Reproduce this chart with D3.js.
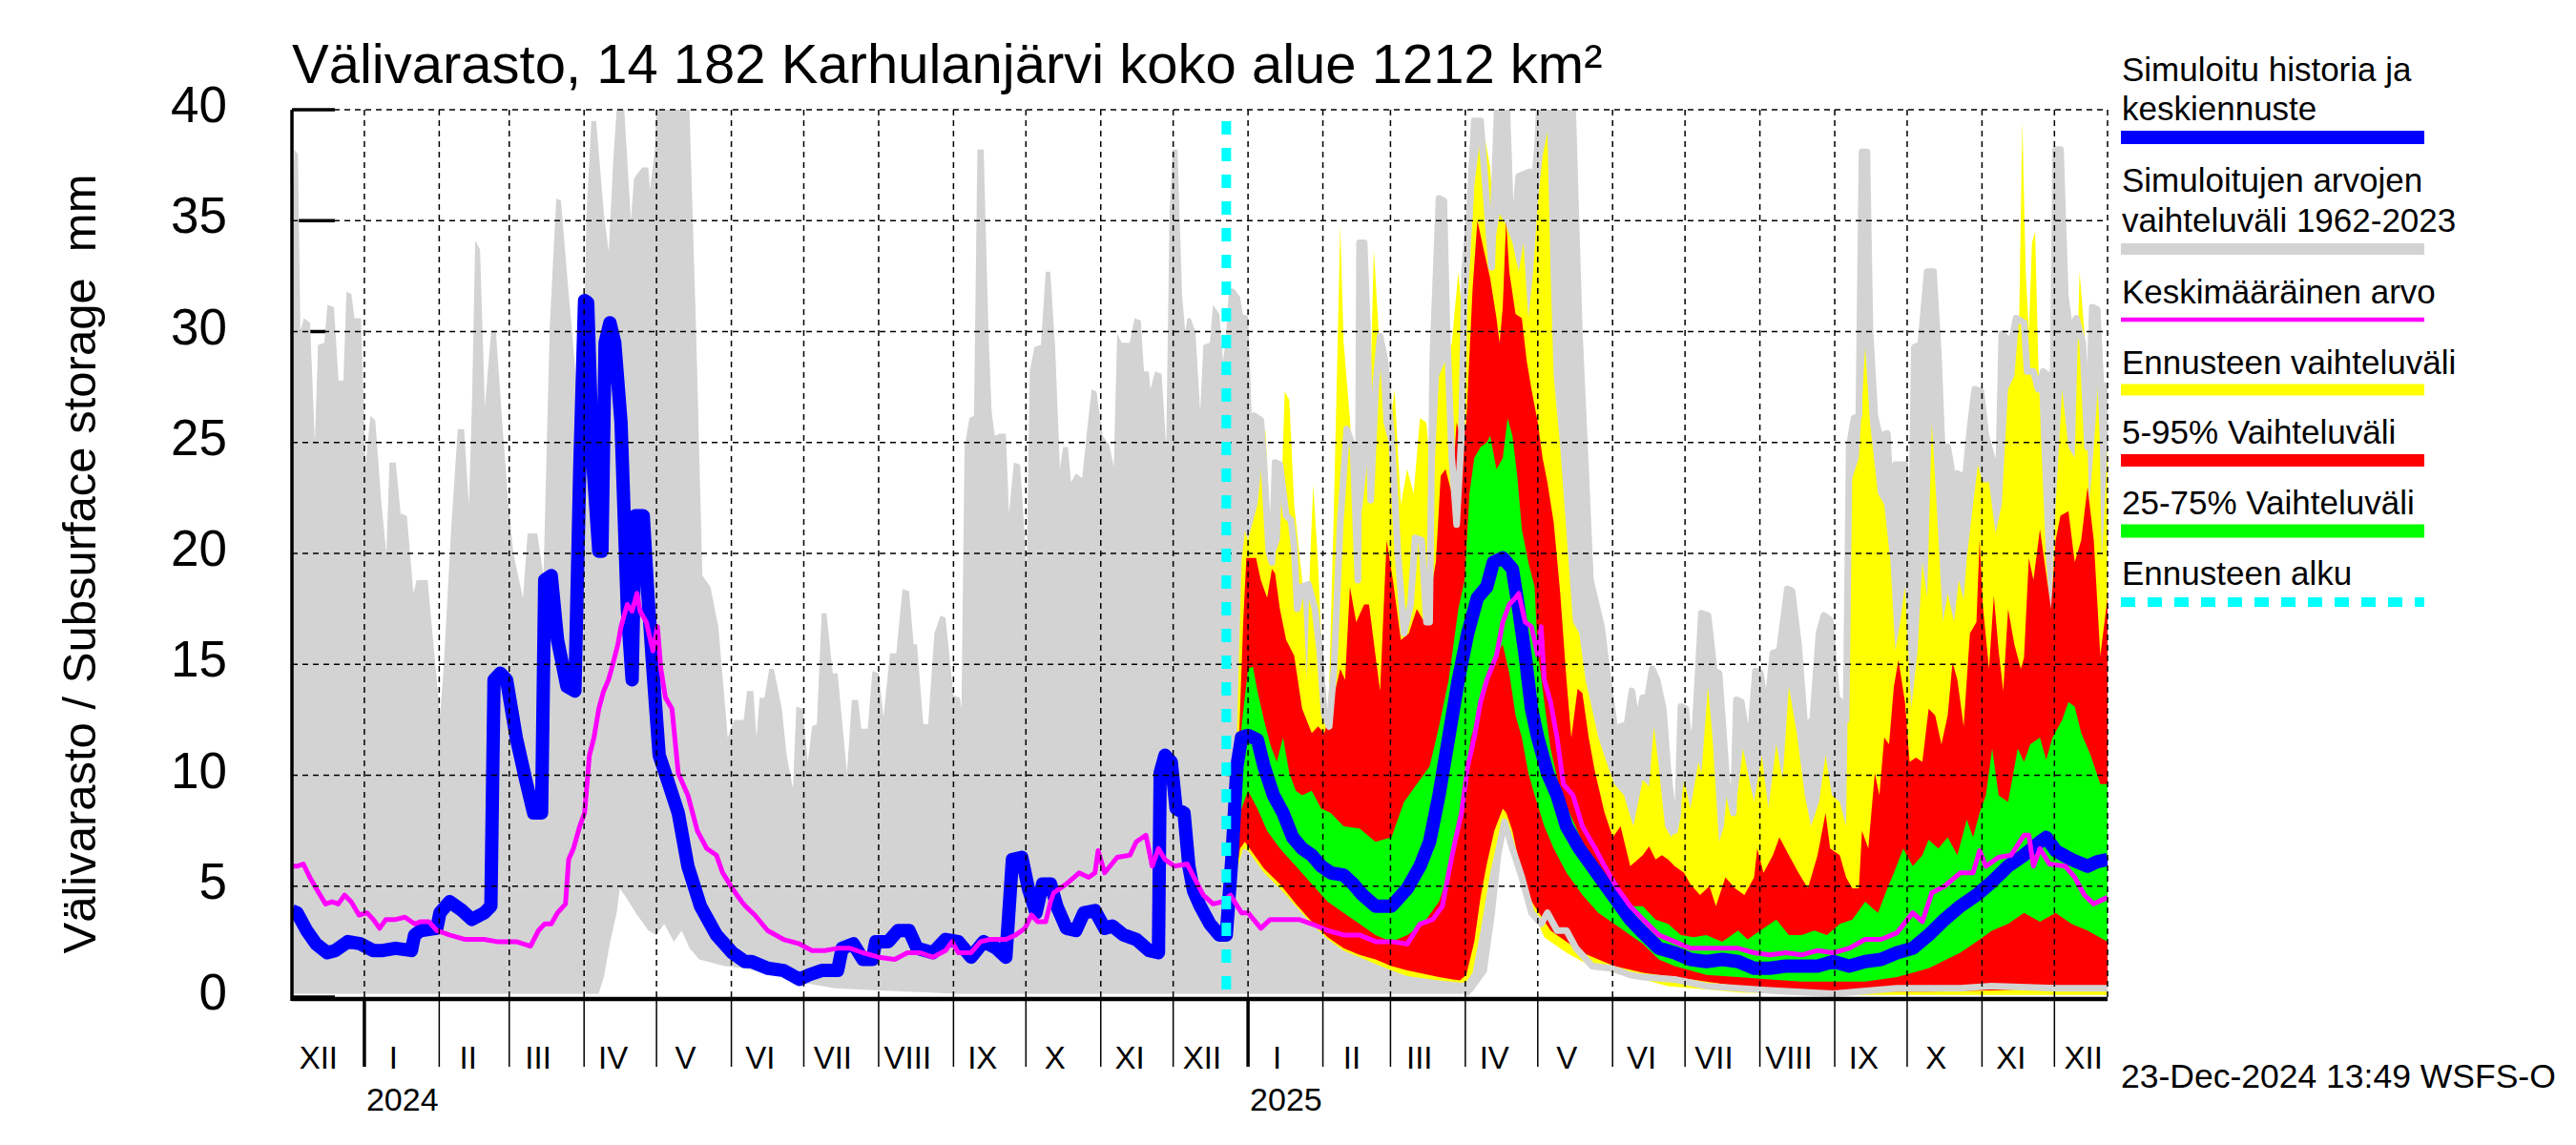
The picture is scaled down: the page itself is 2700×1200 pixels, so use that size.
<!DOCTYPE html>
<html>
<head>
<meta charset="utf-8">
<script src="https://cdn.jsdelivr.net/npm/d3@7"></script>
<style>
  body { margin: 0; background: #fff; }
  text { font-family: "Liberation Sans", Arial, Helvetica, sans-serif; fill: #000; }
</style>
</head>
<body>
<svg id="chart" width="2700" height="1200"></svg>
<script>
// days counted from 2 Dec 2023, values in mm
const histMax = [[0,35],[1,38.2],[2.5,38],[3.5,30],[4.9,30.6],[7.5,30.4],[9.5,25],[10.8,29.4],[13.4,29.5],[14.7,31.2],[17.4,31.1],[19.3,27.8],[21.3,27.8],[22.6,31.8],[24.6,31.7],[25.9,30.6],[28.6,30.6],[30.5,24],[32.5,26.2],[34.5,26],[37.1,22.2],[39.1,20],[40.4,24.1],[43,24.1],[45,21.8],[47.6,21.7],[50.3,18.2],[51.6,18.8],[56.2,18.8],[58.2,16.4],[61.4,12.7],[62.8,14.8],[66.1,21.4],[68.7,25.6],[71.3,25.6],[73.3,22.2],[74.6,26.9],[75.9,34.1],[77.9,33.7],[79.9,26.6],[82.5,30],[84.5,30],[87.1,25.9],[89.7,22.2],[91.7,20],[95.7,18],[97.6,20.9],[101.6,20.9],[104.2,19],[106.8,30.3],[109.5,36],[111.4,35.9],[114.7,31.6],[116,30],[120,24.8],[122,35.3],[124,39.5],[126,39.5],[129.2,35.3],[131.2,33.6],[133.2,37.9],[135.1,41],[137.1,41],[140.4,35],[141.7,36.9],[145,37.4],[147.6,37.4],[148.3,36.4],[150.3,38.2],[151.6,42],[164.1,42],[167.4,30],[170,19],[173.3,18.5],[176.6,16.7],[180.5,11.7],[183.2,12.5],
  [187.1,12.5],[188.5,13.8],[191.1,13.8],[192.4,11.7],[193.7,13.5],[195.7,13.5],[197.7,14.8],[199.6,14.8],[202.9,13],[204.9,10.9],[207.5,9.4],[208.9,13.1],[211.5,13],[213.7,10.6],[215.4,12.2],[217.4,12.3],[219.4,17.3],[221.4,17.3],[224,14.6],[226,14.6],[229.9,10.1],[231.9,13.4],[234.5,13.4],[235.8,12.1],[238.5,12.1],[240.4,14.7],[243.1,14.6],[245,12.6],[247.7,15.5],[250.3,15.5],[252.9,18.4],[255.6,18.3],[257.5,15.9],[258.9,15.9],[261.5,12.3],[263.5,12.3],[266.1,16.4],[268.7,17.2],[270.7,17.1],[274,13.6],[276.6,13.5],[277.3,13],[278.6,24.8],[280.6,26.1],[282.5,26.2],[283.9,38.2],[286.5,38.2],[288.5,30],[289.8,26.4],[291.1,25.3],[293.1,25.4],[295.7,25.4],[297,21.8],[299,24.1],[301.6,24],[303.6,20.6],[304.3,19.3],[305.6,28.2],[307.5,29.3],[310.2,29.4],[312.2,32.7],[314.1,32.7],[316.1,29.3],[318.1,23.8],[319.4,24.8],[321.4,24.8],[322.7,23.2],[324.7,23.6],[327.3,23.4],[329.3,25.5],[331.2,27.4],[333.2,27.3],[335.8,25.3],[338.5,24.9],[340.4,23.9],[341.8,29.9],[343.7,29.5],[347,29.5],[349,30.6],[351.6,30.5],[352.9,28.2],[354.9,28.2],[355.6,27.4],[357.5,28.2],[360.2,28.1],[362.1,24.8],[363.5,35.3],[364.8,38.2],[366.8,38.2],[368.7,31.6],[370,30],
  [370.9,30.6],[372.2,30.6],[374.2,30],[376.2,26.4],[377.5,29.4],[380.2,29.5],[381.5,31.2],[384.1,30.8],[386.1,28],[388.1,29.5],[389.4,31.8],[391.4,31.5],[392.7,30.6],[394.7,30.6],[396,26.6],[397.3,24],[398.6,26.2],[401.3,26],[402.6,24],[404.6,20.1],[405.9,19.6],[407.2,24.1],[409.2,24],[411.8,21.7],[413.8,21.5],[415.1,20.3],[416.4,17.5],[418.4,18.5],[421,18.6],[423.7,17.5],[425.7,15.6],[427.6,12.7],[429.6,12.2],[431.6,14.8],[434.2,21.4],[436.9,25.6],[439.5,24.8],[441.5,18.8],[442.2,34],[444.1,34],[445.5,30],[446.8,22.4],[448.8,27.4],[450.7,29.8],[452.7,28.7],[455.4,25.3],[458,20.1],[460.6,16.4],[463.3,17.7],[465.2,20.7],[467.9,20.6],[469.9,16.9],[471.2,16.9],[472.5,28.7],[475.1,36],[477.1,35.9],[478.4,30],[480.4,24.3],[482.4,21.3],[484.4,25.3],[485.7,32.7],[487.7,35.3],[489.7,39.5],[492.3,39.5],[494.3,36.6],[496.9,32.9],[499.5,41],[502.9,41],[504.8,34.9],[506.8,35.2],[508.1,37],[512.7,37.2],[514.1,36],[516,38.5],[517.4,42],[529.9,42],[533.2,30],[535.8,23.8],[537.8,18.8],[542.4,16.7],[545.1,14.3],[548.4,11.7],[550.3,12.2],[553,12.3],[555,13.8],[557,12.2],
  [559.5,13.5],[561.5,13.5],[563.4,14.8],[565.4,14.3],[568,13],[570,10.1],[572.7,7.5],[574,8.3],[575.3,13.1],[577.3,13],[579.2,10.6],[581.2,12.2],[583.8,17.3],[586.5,17.2],[589.1,14.7],[591.1,14.6],[594.4,9.6],[597,8.3],[598.3,13.4],[600.3,13.3],[602.3,11.9],[604.2,11.9],[606.2,14.7],[608.2,14.6],[610.8,12.7],[613.4,15.5],[616.1,15.6],[619.4,18.4],[621.3,18.3],[624,15.9],[626.6,12.2],[629.9,12.5],[632.5,16.4],[634.5,17.2],[637.1,17],[639.8,13.5],[642.4,13.2],[643.7,12.5],[645,24.8],[647,26.1],[649,26.2],[650.3,38.1],[652.3,38.1],[653.6,30],[655.6,26.2],[657.5,25.3],[660.8,25.4],[662.1,22.2],[664.1,24],[668,24],[669.4,19.8],[670.7,19.8],[672,29.3],[674.6,29.4],[677.3,32.7],[679.9,32.7],[681.9,29],[683.8,23.8],[685.8,24.8],[687.8,23.5],[689.8,23.6],[693.1,23.4],[695,25.6],[697,27.4],[699.6,27.3],[701.6,25.3],[704.9,24],[706.9,23.5],[708.2,29.9],[712.1,29.5],[714.1,30.6],[717.4,30.4],[718.7,28.2],[721.3,28.2],[723.3,27.4],[725.3,28.2],[727.9,28],[729.2,24.8],[730.5,38.2],[732.5,38.2],[734.5,31.6],[736.5,30],[739.1,30.6],[741.7,29.5],[743.7,24.8],[745.7,31.1],[747.7,31],[750.3,25.1],[752,27.7]];

const histMin = [[0,0.15],[127,0.15],[129.2,0.9],[131.8,2.5],[134.5,3.8],[135.8,4.9],[138.4,4.5],[142.4,3.8],[147.6,3],[150.9,2.8],[154.2,3.3],[158.2,2.5],[161.4,3],[164.7,2.2],[168.7,1.7],[179.2,1.4],[187.1,1.3],[195,1.1],[205,0.9],[214,0.6],[225,0.4],[243,0.3],[276,0.15],[486,0.15],[488.3,0.4],[493.6,1.2],[496.9,3.8],[499.5,6.4],[502.2,7.9],[505.5,6.7],[509.4,5.4],[513.4,3.8],[517.4,3.3],[520,3.8],[524,3],[527.9,3],[531.9,2.2],[538.5,1.4],[546.4,1.3],[554.3,1],[559.6,0.9],[572.7,0.8],[585.8,0.5],[612.1,0.3],[638.4,0.15],[664.8,0.4],[691,0.4],[704,0.5],[730.5,0.4],[752,0.4]];

const fcMax = [[387,2.8],[390.7,9],[393.3,19.6],[394.7,21],[396,20.6],[399.9,22.2],[403.2,25.6],[405.9,19.6],[409.2,20.6],[411.2,27.3],[413.1,26.9],[415.1,22.2],[418.4,18.8],[420.4,14.3],[421.7,19.6],[423,23.1],[425,19.6],[427.6,12.7],[429,11.7],[431.6,22.2],[434.2,34.8],[435.6,29.5],[438.2,26.1],[440.8,20.6],[443.5,22.2],[446.1,24.8],[448.1,33.7],[450.1,30],[452.1,25.9],[454,25.1],[456.7,27.4],[459.3,22.2],[461.9,23.8],[464.6,22.7],[467.2,26.1],[469.9,25.9],[472.5,22.2],[475.1,28],[477.8,28.7],[480.4,29.5],[483.1,32.7],[485.7,29.5],[487.7,32.7],[489.7,36.6],[492.3,38.8],[494.3,38.6],[496.3,37.4],[498.2,34],[500.2,35.3],[502.9,34.8],[505.5,34],[508.1,32.7],[510.1,34],[512.1,30.6],[514.1,32.7],[516,35.8],[518,37.9],[520,39],[521.3,32.7],[522.6,28],[525.3,24.8],[527.9,20.9],[530.6,16.9],[533.2,16.4],[535.8,14.3],[538.5,13],[541.1,11.7],[545.1,10.4],[547.7,9.6],[551.7,9.1],[555.6,7.7],
  [559.5,9.8],[562.1,9.5],[564.1,12.2],[566.1,10.4],[568.7,7.7],[571.3,7.2],[574,7.7],[576.6,9.8],[579.2,8.5],[582.5,10.6],[583.8,10.1],[586.5,14],[588.4,11.7],[591.1,7],[593.1,7.7],[595,10.1],[597.7,8.3],[601,11.2],[603.6,9.8],[605.6,8.8],[608.8,10.9],[611.5,8.5],[614.8,11.4],[617.4,9.8],[620,14],[623.3,11.9],[626.6,9.1],[629.2,7.7],[632.5,8.8],[635.2,10.9],[637.8,9.1],[641.1,8.8],[643.7,7.7],[645.7,23.2],[649,24.3],[651.6,29.3],[653.6,25.9],[656.9,22.7],[659.5,22.2],[662.1,19.6],[664.1,15.6],[666.1,16.9],[668.1,18.5],[670.7,13],[673.3,15.6],[675.3,19.6],[677.3,18],[679.2,25.9],[681.2,22.2],[683.8,16.9],[685.8,18.2],[688.4,16.9],[690.4,18.8],[692.4,17.9],[693.7,19.8],[696.3,22.2],[698.3,24],[700.3,23.2],[702.9,23.2],[705.6,20.9],[708.2,22.2],[710.8,27.4],[713.4,28],[715.4,30.6],[716.7,39.5],[718.1,32.7],[719.4,30],[720.7,34],[722,34.5],[723.3,28.7],[724.6,24.8],[726.6,19.6],[728.6,16.9],[730.5,22.2],[733.2,27.4],[735.8,24.8],[738.4,24.3],[740.4,32.7],[742.4,30],[744.4,22.2],[746.3,24.8],[748.3,28],[749.6,19.6],[752,24.8]];

const fcMin = [[387,2.8],[391.8,5.9],[394,6.7],[396,6.6],[402.6,5.6],[409.2,4.9],[415.8,4.1],[422.4,3.3],[429,2.6],[435.6,2.1],[448.8,1.5],[455.4,1.2],[462,0.95],[475.1,0.75],[484.4,0.65],[486.4,0.7],[489,1.1],[492.3,3],[496.3,5.6],[500.2,7.5],[502.9,7.8],[506.8,6.2],[509.4,5],[512.1,4.2],[514.7,3.7],[518.7,2.7],[527.9,2],[534.5,1.6],[541.1,1.3],[547.7,1.1],[559.6,0.8],[570,0.5],[600,0.2],[650,0.1],[752,0.1]];

const p95 = [[387,2.8],[391.4,9],[394,16.9],[395.3,19.8],[399.3,19.8],[401.3,18.8],[403.9,18],[405.9,19.3],[407.2,19.1],[409.2,17.5],[411.8,16.1],[415.1,15.4],[418.4,13],[422.4,11.9],[425,12.2],[427.6,11.9],[430.3,13],[434.2,14.8],[436.2,14.3],[438.2,18.5],[440.8,16.9],[444.1,17.7],[446.1,17.7],[448.8,15.4],[450.7,13.8],[453.4,20.6],[456,18.8],[459.3,16.1],[462.6,16.4],[465.9,17.5],[468.5,17],[471.2,18],[473.8,19.6],[475.8,23.5],[477.8,23.8],[480.4,22.7],[482.4,25.9],[484.4,25.1],[486.4,25.9],[489,31.9],[491,35],[493.6,33.7],[496.3,32.4],[498.9,30.6],[500.2,29.5],[501.5,31.1],[502.9,35],[504.2,32.7],[506.8,30.8],[509.4,30.6],[511.4,28.7],[513.4,27.4],[516,25.9],[518,24.3],[520,23.2],[522.6,21.4],[525.3,18.2],[527.9,14.3],[529.9,11.7],[532.5,13.9],[534.5,13.7],[537.1,11.7],[539.8,10.1],[543.7,8.3],[547.1,7.2],[550.3,7.7],[554.3,5.9],
  [559.5,6.4],[562.1,6.8],[564.8,6.2],[567.4,6.4],[570,6.2],[572.7,5.9],[576.6,5.6],[579.2,5.1],[583.2,4.6],[587.1,5],[589.8,4.1],[593.7,5.4],[597.7,4.9],[601.6,4.6],[605.6,5.4],[606.9,6.7],[609.5,5.6],[613.4,6.4],[616.1,7.2],[620,6.4],[624,5.6],[627.9,4.9],[631.9,6.4],[635.2,8.3],[637.1,6.7],[641.1,6.4],[643.7,5.4],[646.3,4.9],[649,4.9],[650.3,7.5],[652.9,6.7],[655.6,10.1],[657.5,9.1],[659.5,11.7],[661.5,11.4],[663.5,14],[665.4,15.2],[668.1,13.3],[670,10.6],[672.7,10.8],[675.3,10.6],[677.9,13],[680.6,12.7],[683.2,11.4],[685.8,12.7],[687.8,15.1],[689.8,14.3],[692.4,12.2],[695,16.4],[697.7,16.9],[699,20.6],[700.3,17.7],[702.9,14.8],[704.9,18.1],[706.9,15.6],[708.8,13.8],[710.8,17.5],[713.4,15.9],[716.1,14.8],[717.4,15.3],[719.4,19.8],[721.3,18.8],[724,21.1],[725.9,19.6],[728.6,17.5],[730.5,20.6],[732.5,21.7],[735.8,21.9],[738.4,19.6],[741.1,20.6],[743.7,23],[746.3,20.6],[749,15.4],[752,18]];

const p5 = [[387,2.8],[392.7,6.7],[394.7,7],[397.3,6.6],[402.6,5.8],[409.2,5.1],[415.8,4.2],[422.4,3.4],[429,2.7],[435.6,2.2],[442.2,1.9],[448.8,1.7],[455.4,1.4],[462,1.2],[475.1,0.9],[483.7,0.75],[486.4,1],[489.7,2.5],[492.3,4.5],[494.9,6],[498,7.5],[501.5,8.5],[503,8.3],[505.5,7.5],[509.4,5.5],[512,4.6],[514.7,4.1],[521.3,3],[527.9,2.5],[534.5,2],[541.1,1.7],[547.7,1.4],[559.6,1.1],[572.7,0.9],[585.8,0.7],[598.9,0.5],[625.3,0.3],[651.6,0.25],[677.9,0.25],[704.2,0.3],[730.5,0.4],[752,0.4]];

const p75 = [[387,2.8],[390.7,7.7],[393.3,12.2],[396,14.8],[398,14.9],[399.9,13.8],[402.6,12.5],[405.2,11.4],[407.9,10.6],[410.5,11.7],[413.1,10.1],[415.8,9.3],[418.4,9.1],[422.4,9.3],[426.3,8.5],[430.3,8.3],[435.6,7.7],[442.2,7.6],[448.8,7],[455.4,7.2],[460.6,8.8],[465.9,9.6],[471.2,10.4],[475.1,12.2],[479.1,14.3],[483.1,17.5],[485.7,18.8],[487.7,22.7],[489.7,24.3],[492.3,24.8],[494.9,25],[496.3,25.3],[498.9,23.8],[501.5,24.3],[503.5,26.1],[505.5,25.3],[507.5,23.5],[509.4,21.1],[512.1,19.6],[514.7,18.5],[516,15.6],[518.7,13.3],[521.3,11.2],[525.3,9.3],[529.2,8.3],[534.5,7],[541.1,5.9],[547.7,4.6],[554.3,4.1],
  [559.5,4.1],[564.8,3.5],[570,3.3],[575.3,2.8],[580.6,2.7],[585.8,2.8],[592.4,2.5],[599,3],[602.9,2.6],[608.2,3],[614.8,3.5],[620,2.8],[625.3,2.8],[630.6,3],[635.8,2.8],[641.1,3.3],[646.3,3.5],[651.6,4.3],[656.9,3.8],[660.8,4.9],[663.5,5.6],[667.4,6.7],[671.3,5.9],[675.3,6.4],[677.9,7.1],[681.9,6.7],[685.8,7.2],[689.8,6.4],[693.7,8],[696.3,7.2],[699,8.3],[701.6,9.1],[704.2,11.2],[706.9,9.1],[710.8,8.8],[714.8,11.2],[717.4,10.6],[720,11.4],[724,11.7],[726.6,10.7],[729.2,11.7],[733.2,12.5],[735.8,13.3],[738.4,13.1],[741.1,11.9],[745,10.9],[749,9.6],[752,9.6]];

const p25 = [[387,2.8],[393.3,8.5],[396,9.3],[399.9,8.5],[403.9,7.5],[409.2,6.7],[415.8,5.9],[422.4,5.1],[429,4.3],[435.6,3.8],[442.2,3.3],[448.8,2.8],[455.4,2.5],[462,2.8],[468.5,3.3],[475.1,4.3],[479.1,5.6],[483.1,8],[485.7,9.6],[488.3,11.7],[492.3,13],[496.3,14.8],[498.9,15.4],[501.5,15.9],[504.2,14.6],[506.8,12.7],[509.4,11.7],[512.1,10.1],[514.7,9.1],[518.7,7.7],[522.6,6.7],[527.9,5.6],[534.5,4.6],[541.1,3.8],[547.7,3.3],[554.3,2.8],[559.6,2.4],
  [566.1,1.7],[572.7,1.4],[579.2,1.2],[585.8,1],[599,0.9],[612.1,0.8],[625.3,0.7],[651.6,0.7],[664.8,0.9],[677.9,1.3],[691,2],[697.7,2.5],[704.2,3],[710.8,3.3],[717.4,3.8],[724,3.4],[730.5,3.8],[737.1,3.3],[743.7,3],[752,2.5]];

// simulated history up to 23 Dec 2024, then median forecast
const simulated = [[0,3.9],[2.1,3.8],[6.1,3],[10,2.4],[14.6,2],[17.9,2.1],[23.2,2.5],[28.4,2.4],[33.7,2.1],[37.6,2.1],[42.9,2.2],[49.5,2.1],[50.8,2.8],[53.4,3],[60,3.1],[61.3,3.8],[65.3,4.3],[70.5,3.9],[74.5,3.5],[79.7,3.8],[82.4,4.1],[83.7,14.3],[86.3,14.6],[88.9,14.3],[92.9,11.7],[96.8,9.8],[100.1,8.3],[103.4,8.3],[104.7,18.8],[107.4,19],[110,16.1],[113.9,14],[117.2,13.8],[119.2,23.8],[121.2,31.4],[122.5,31.3],[124.5,24.3],[127.1,20.1],[128.4,20.1],[129.7,29.5],[131.7,30.4],[133.7,29.5],[136.3,25.9],[138.9,17.5],[140.9,14.3],[142.2,21.7],[145.5,21.7],[147.5,18],[149.5,14.8],[152.1,10.9],[156.1,9.6],[160,8.3],[164,5.9],[169.2,4.1],[175.8,2.8],[182.4,2],[187.6,1.6],
  [190.4,1.6],[197,1.3],[203.6,1.2],[210.2,0.8],[214.1,1],[219.4,1.2],[226,1.2],[227.9,2.2],[232.5,2.4],[236.5,1.7],[240.4,1.7],[241.8,2.5],[247,2.5],[251,3],[255.6,3],[258.9,2.2],[265.5,2],[270.7,2.6],[276,2.5],[281.3,1.8],[286.5,2.5],[291.8,2.2],[295.7,1.8],[298.4,6.2],[302.3,6.3],[305,4.9],[308.2,3.8],[310.9,5.1],[314.2,5.1],[316.8,4.1],[320.8,3.1],[324.7,3],[328,3.8],[332.6,3.9],[336.6,3.1],[339.8,3.2],[344.5,2.8],[349.7,2.6],[355,2.1],[358.9,2],[359.6,10.1],[361.6,10.9],[364.2,10.6],[366.2,8.5],[369.5,8.3],[371.5,5.9],[373.4,4.8],[376.2,4.1],[380.2,3.3],[384.1,2.8],[387,2.8],
  [389.4,6.4],[391.4,10.4],[393.3,11.7],[396,11.8],[399.9,11.6],[402.6,10.4],[406.5,9.1],[410.5,8.3],[414.5,7.2],[418.4,6.7],[422.4,6.4],[426.3,5.9],[430.3,5.6],[435.6,5.5],[439.5,5.1],[443.5,4.6],[448.8,4.1],[455.4,4.1],[462,4.9],[467.2,5.9],[471.2,7],[475.1,9.1],[479.1,11.7],[483.1,14.3],[487,16.4],[491,18],[494.9,18.5],[497.6,19.6],[501.5,19.8],[505.5,19.3],[508.1,17.5],[510.8,15.4],[513.4,13],[516,11.7],[520,10.1],[524,9.1],[527.9,7.7],[533.2,6.7],[538.5,5.9],[543.7,5.1],[549,4.3],[554.3,3.5],[559.6,2.9],
  [566.1,2.2],[572.7,2],[579.2,1.7],[585.8,1.6],[592.4,1.7],[599,1.6],[605.6,1.3],[612.1,1.3],[618.7,1.4],[625.3,1.4],[631.9,1.4],[638.4,1.6],[645,1.4],[651.6,1.6],[658.2,1.7],[664.8,2],[671.3,2.2],[677.9,2.8],[684.5,3.5],[691,4.1],[697.7,4.6],[704.2,5.2],[710.8,5.9],[717.4,6.4],[724,7],[726.6,7.2],[730.5,6.6],[737.1,6.2],[743.7,5.9],[747.7,6.1],[752,6.2]];

const meanValue = [[0,5.9],[2.1,5.9],[4.7,6],[7.4,5.4],[10,4.9],[13.9,4.2],[16.6,4.3],[19.2,4.2],[21.8,4.6],[24.5,4.3],[27.8,3.7],[31.1,3.8],[33.7,3.5],[36.3,3.1],[38.9,3.5],[42.9,3.5],[46.8,3.6],[50.8,3.3],[53.4,3.4],[56.7,3.4],[60,3],[65.3,2.8],[71.8,2.6],[79.7,2.6],[85,2.5],[92.9,2.5],[98.8,2.3],[102.1,3],[104.7,3.3],[107.4,3.3],[110,3.8],[113.3,4.2],[114.6,6.2],[116.6,6.7],[119.2,7.7],[121.2,8.3],[123.2,10.9],[125.1,11.7],[127.1,13],[129.1,13.8],[131.1,14.3],[132.4,14.8],[135,15.9],[136.3,16.7],[138.9,17.7],[140.9,17.4],[142.9,18.2],[144.2,17.4],[146.8,16.9],[149.5,15.6],[151.4,16.7],[152.8,14.8],[154.7,13.5],[157.4,13],[160,10.1],[164,9.1],[167.9,7.5],[171.8,6.7],[175.8,6.4],[178.4,5.6],[182.4,4.9],[186.3,4.3],
  [187.8,4.1],[191.7,3.7],[197,3],[203.6,2.6],[210.2,2.4],[215.4,2.1],[220.7,2.1],[226,2.2],[231.2,2.2],[236.5,2],[243.1,1.8],[249.7,1.7],[254.9,2],[260.2,2],[265.5,1.8],[270.7,2.1],[273.4,2.5],[276,2],[281.3,2],[285.2,2.5],[289.2,2.6],[295.7,2.6],[299.7,2.8],[303.6,3.1],[306.3,3.7],[308.9,3.4],[312.2,3.4],[314.2,4.3],[315.5,4.7],[320.8,5.1],[326,5.6],[330,5.4],[332.6,5.6],[333.9,6.6],[336.6,5.6],[341.8,6.3],[347.1,6.4],[349.7,7],[353.7,7.3],[356.3,5.9],[358.9,6.7],[361.6,6.2],[365.5,5.9],[370.8,6],
  [373.6,5.4],[377.5,4.6],[381.5,4.2],[385.4,4.3],[388.7,4.6],[393.3,3.8],[396,3.8],[401.3,3.1],[405.2,3.5],[411.8,3.5],[417.1,3.5],[422.4,3.3],[429,3],[435.6,2.8],[442.2,2.8],[448.8,2.5],[455.4,2.5],[462,2.4],[467.2,3.3],[472.5,3.5],[476.5,4.1],[479.1,5.6],[481.7,7],[484.4,8.3],[487,10.4],[489.7,11.7],[492.3,13.3],[494.9,14.3],[498.9,15.4],[501.5,16.9],[504.2,17.7],[506.8,18],[508.1,18.2],[510.8,16.9],[513.4,16.7],[516,15.4],[517.4,16.7],[518.7,14.3],[521.3,13.3],[524,11.7],[526.6,9.6],[530.6,9.1],[534.5,7.7],[539.8,6.7],[543.7,5.9],[549,4.9],[554.3,4.1],[559.6,3.5],
  [566.1,2.8],[572.7,2.5],[579.2,2.2],[585.8,2.2],[592.4,2.2],[599,2.2],[605.6,2],[612.1,1.9],[618.7,2],[625.3,1.9],[631.9,2.1],[638.4,2],[645,2.2],[651.6,2.6],[658.2,2.6],[664.8,2.9],[671.3,3.8],[675.3,3.4],[679.2,4.7],[684.5,5],[691,5.6],[696.3,5.6],[699,6.6],[701.6,5.9],[706.9,6.3],[712.1,6.4],[717.4,7.3],[719.4,7.3],[721.3,5.9],[724,6.7],[727.9,6],[734.5,5.9],[738.4,5.4],[742.4,4.6],[746.3,4.2],[752,4.5]];

const forecastStartDay = 387;
const yTicks = [0, 5, 10, 15, 20, 25, 30, 35, 40];
const monthNames = ["I","II","III","IV","V","VI","VII","VIII","IX","X","XI","XII"];
const legendItems = [
  {lines: ["Simuloitu historia ja", "keskiennuste"], color: "#0000ff", width: 14},
  {lines: ["Simuloitujen arvojen", "vaihteluväli 1962-2023"], color: "#d3d3d3", width: 12},
  {lines: ["Keskimääräinen arvo"], color: "#ff00ff", width: 4.5},
  {lines: ["Ennusteen vaihteluväli"], color: "#ffff00", width: 12},
  {lines: ["5-95% Vaihteluväli"], color: "#ff0000", width: 13},
  {lines: ["25-75% Vaihteluväli"], color: "#00ff00", width: 14},
  {lines: ["Ennusteen alku"], color: "#00ffff", width: 10, dash: "15,13"}
];

const start = Date.UTC(2023, 11, 2);
const end = Date.UTC(2025, 11, 23);
const toDate = d => new Date(start + d * 864e5);

const margin = {left: 306, right: 2209, top: 115, bottom: 1045};
const x = d3.scaleUtc().domain([new Date(start), new Date(end)]).range([margin.left, margin.right]);
const y = d3.scaleLinear().domain([0, 40]).range([margin.bottom, margin.top]);

const svg = d3.select("#chart");
svg.append("rect").attr("width", 2700).attr("height", 1200).attr("fill", "#fff");
svg.append("defs").append("clipPath").attr("id", "plot").append("rect")
  .attr("x", margin.left).attr("y", margin.top)
  .attr("width", margin.right - margin.left).attr("height", margin.bottom - margin.top);

const pt = p => [x(toDate(p[0])), y(p[1])];
const line = d3.line();
const band = (up, lo) => line([...up.map(pt), ...lo.slice().reverse().map(pt)]) + "Z";

// inward y ticks (under the grey range)
svg.append("g").selectAll("line").data(yTicks).join("line")
  .attr("x1", margin.left).attr("x2", margin.left + 45)
  .attr("y1", d => y(d)).attr("y2", d => y(d))
  .attr("stroke", "#000").attr("stroke-width", 3.5);

const plot = svg.append("g").attr("clip-path", "url(#plot)");
plot.append("path").attr("d", band(histMax, histMin)).attr("fill", "#d3d3d3");
plot.append("path").attr("d", band(fcMax, fcMin)).attr("fill", "#ffff00");
plot.append("path").attr("d", band(p95, p5)).attr("fill", "#ff0000");
plot.append("path").attr("d", band(p75, p25)).attr("fill", "#00ff00");

// grey range outlines over the forecast bands
[histMax, histMin].forEach(s => {
  plot.append("path")
    .attr("d", line(s.filter(p => p[0] >= forecastStartDay - 2).map(pt)))
    .attr("fill", "none").attr("stroke", "#d3d3d3").attr("stroke-width", 7)
    .attr("stroke-linejoin", "round");
});

// grid
const months = d3.utcMonth.range(new Date(start), new Date(end));
const grid = svg.append("g").attr("stroke", "#000").attr("stroke-width", 1.5).attr("stroke-dasharray", "6,5");
grid.selectAll(".h").data(yTicks.filter(v => v > 0)).join("line")
  .attr("x1", margin.left).attr("x2", margin.right)
  .attr("y1", d => y(d)).attr("y2", d => y(d));
grid.selectAll(".v").data(months).join("line")
  .attr("x1", d => x(d)).attr("x2", d => x(d))
  .attr("y1", margin.top).attr("y2", margin.bottom);
grid.append("line").attr("x1", margin.right).attr("x2", margin.right)
  .attr("y1", margin.top).attr("y2", margin.bottom);

plot.append("path").attr("d", line(simulated.map(pt)))
  .attr("fill", "none").attr("stroke", "#0000ff").attr("stroke-width", 14).attr("stroke-linejoin", "round");
plot.append("path").attr("d", line(meanValue.map(pt)))
  .attr("fill", "none").attr("stroke", "#ff00ff").attr("stroke-width", 5).attr("stroke-linejoin", "round");

const fx = x(toDate(forecastStartDay));
svg.append("line").attr("x1", fx).attr("x2", fx).attr("y1", margin.top + 12).attr("y2", margin.bottom)
  .attr("stroke", "#00ffff").attr("stroke-width", 10).attr("stroke-dasharray", "14,14");

// axes
svg.append("line").attr("x1", margin.left).attr("x2", margin.left).attr("y1", margin.top).attr("y2", margin.bottom + 4)
  .attr("stroke", "#000").attr("stroke-width", 3.5);
svg.append("line").attr("x1", margin.left).attr("x2", margin.right).attr("y1", margin.bottom + 2).attr("y2", margin.bottom + 2)
  .attr("stroke", "#000").attr("stroke-width", 4.5);

svg.append("g").selectAll("line").data(months).join("line")
  .attr("x1", d => x(d)).attr("x2", d => x(d))
  .attr("y1", margin.bottom + 2).attr("y2", 1118)
  .attr("stroke", "#000").attr("stroke-width", d => d.getUTCMonth() === 0 ? 3.5 : 1.5);

const labelMonths = d3.utcMonth.range(d3.utcMonth.floor(new Date(start)), new Date(end));
svg.append("g").selectAll("text").data(labelMonths).join("text")
  .attr("x", d => x(d3.utcDay.offset(d, 12))).attr("y", 1120)
  .attr("text-anchor", "middle").attr("font-size", 33)
  .text(d => monthNames[d.getUTCMonth()]);

svg.append("g").selectAll("text").data(months.filter(d => d.getUTCMonth() === 0)).join("text")
  .attr("x", d => x(d) + 2).attr("y", 1164).attr("font-size", 34)
  .text(d => d.getUTCFullYear());

svg.append("g").selectAll("text").data(yTicks).join("text")
  .attr("x", 238).attr("y", d => y(d) + 13)
  .attr("text-anchor", "end").attr("font-size", 53)
  .text(d => d);

svg.append("text").attr("x", 306).attr("y", 87).attr("font-size", 58)
  .text("Välivarasto, 14 182 Karhulanjärvi koko alue 1212 km²");

svg.append("text").attr("transform", "translate(100,591) rotate(-90)")
  .attr("text-anchor", "middle").attr("font-size", 49).style("white-space", "pre")
  .text("Välivarasto / Subsurface storage  mm");

svg.append("text").attr("x", 2223).attr("y", 1140).attr("font-size", 35.5)
  .text("23-Dec-2024 13:49 WSFS-O");

// legend
const legendText = [[85, 126], [201, 243], [318], [392], [465], [539], [613]];
const legendSwatch = [144, 261, 335, 408.5, 482.5, 556.5, 631];
const legend = svg.append("g");
legendItems.forEach((item, i) => {
  item.lines.forEach((t, j) => {
    legend.append("text").attr("x", 2224).attr("y", legendText[i][j]).attr("font-size", 35).text(t);
  });
  legend.append("line").attr("x1", 2223).attr("x2", 2541)
    .attr("y1", legendSwatch[i]).attr("y2", legendSwatch[i])
    .attr("stroke", item.color).attr("stroke-width", item.width)
    .attr("stroke-dasharray", item.dash || null);
});
</script>
</body>
</html>
